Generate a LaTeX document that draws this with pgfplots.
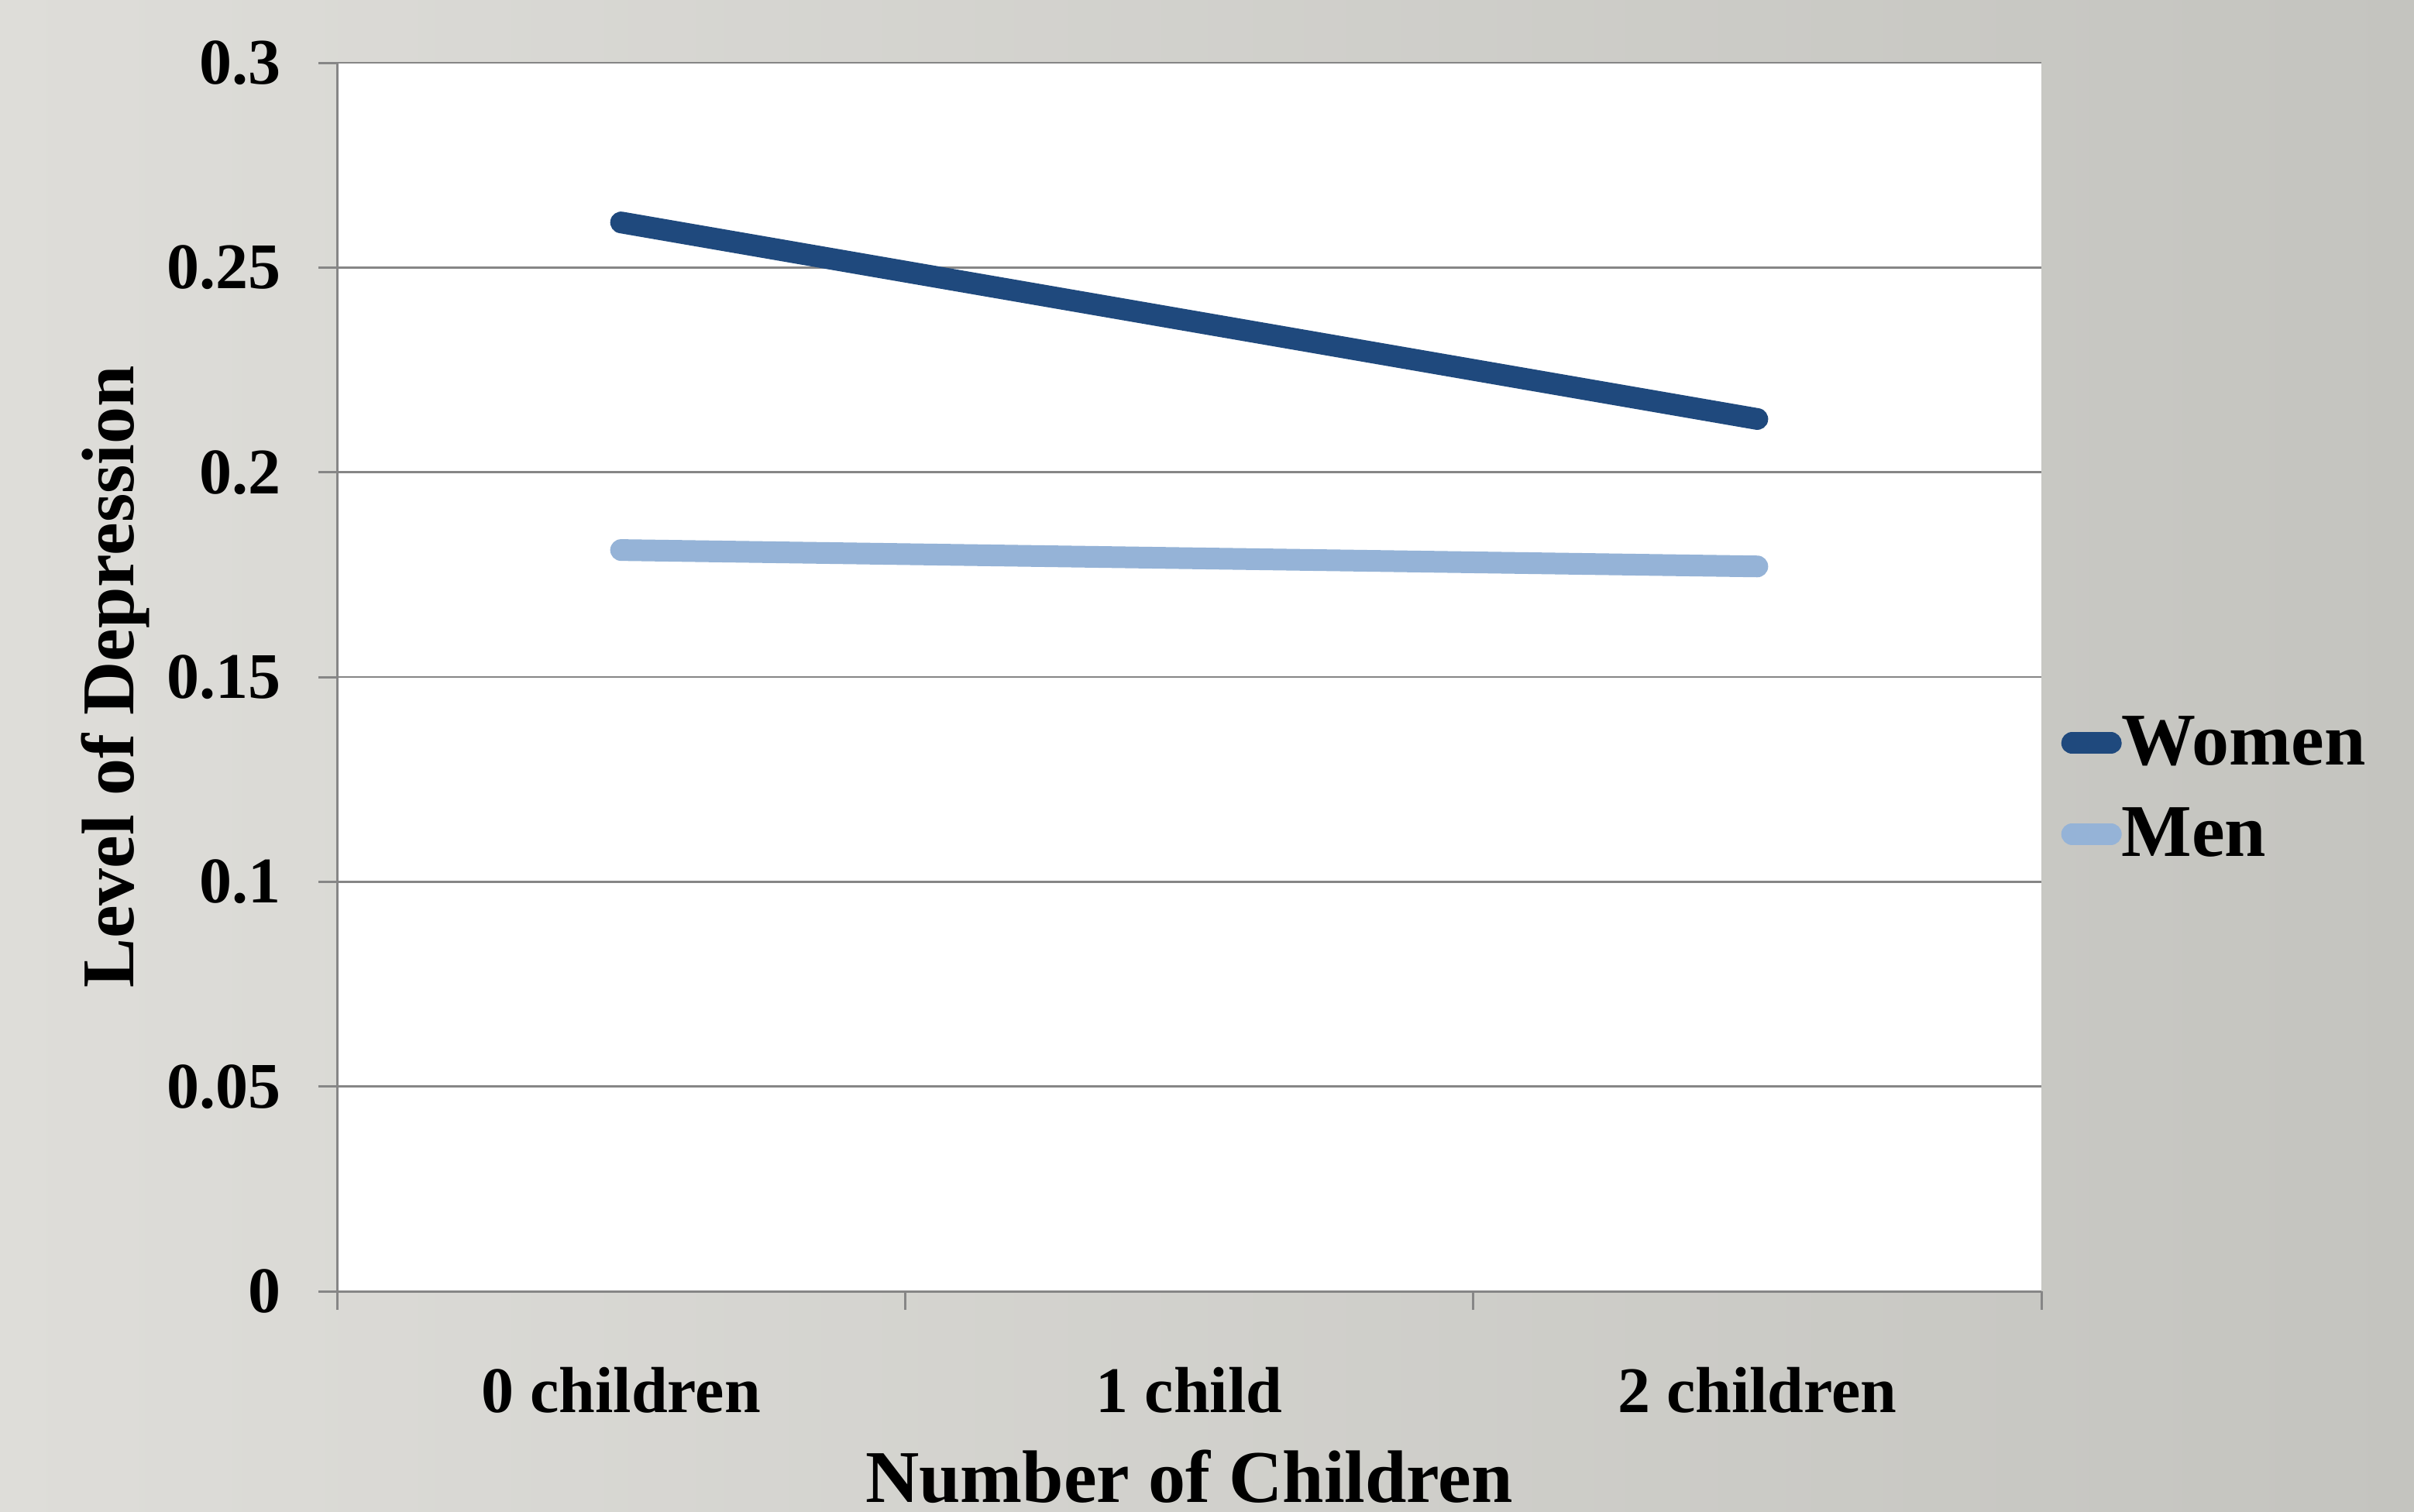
\documentclass[border=0pt]{standalone}
\usepackage{fontspec}
\setmainfont{Liberation Serif}
\usepackage{pgfplots}
\pgfplotsset{compat=1.18}

\definecolor{women}{RGB}{31,73,125}
\definecolor{men}{RGB}{149,179,215}
\definecolor{axgray}{RGB}{134,134,134}
\definecolor{bgleft}{RGB}{222,221,217}
\definecolor{bgright}{RGB}{196,196,191}

\begin{document}
\begin{tikzpicture}
\useasboundingbox (0,0) rectangle (779pt,487.75pt);
\clip (0,0) rectangle (779pt,487.75pt);
\shade[left color=bgleft, right color=bgright] (0,0) rectangle (779pt,487.75pt);
\begin{axis}[
    at={(108.75pt,71pt)}, anchor=south west,
    width=550pt, height=396.5pt, scale only axis,
    axis background/.style={fill=white},
    xmin=-0.5, xmax=2.5, ymin=0, ymax=0.3,
    axis x line*=bottom, axis y line*=left,
    axis line style={draw=axgray, line width=0.75pt, -},
    % category separators as ticks, names as extra ticks at the centres
    xtick={-0.5,0.5,1.5,2.5},
    xticklabels={},
    extra x ticks={0,1,2},
    extra x tick labels={0 children,1 child,2 children},
    extra x tick style={major tick length=0pt, tick style={draw=none}},
    ytick={0,0.05,0.1,0.15,0.2,0.25,0.3},
    yticklabels={0,0.05,0.1,0.15,0.2,0.25,0.3},
    tick align=outside,
    major tick length=6pt,
    tick style={draw=axgray, line width=0.75pt},
    ymajorgrids=true,
    grid style={draw=axgray, line width=0.6pt},
    ticklabel style={font=\fontsize{21}{25}\selectfont\bfseries},
    xticklabel style={yshift=-21pt},
    yticklabel style={xshift=-8.5pt},
    xlabel={Number of Children},
    ylabel={Level of Depression},
    label style={font=\fontsize{24}{28}\selectfont\bfseries},
    xlabel style={at={(axis description cs:0.5,-0.172)}, anchor=base},
    ylabel style={at={(axis description cs:-0.1191,0.5)}, anchor=base},
    legend style={at={(axis description cs:1.0113,0.4092)}, anchor=west,
        draw=none, fill=none, inner sep=0pt,
        font=\fontsize{24}{28}\selectfont\bfseries,
        nodes={inner sep=0pt}, row sep=12.1pt,
        /tikz/every even column/.append style={column sep=2.25pt}},
    legend cell align=left,
    legend image code/.code={\draw[#1, line width=7pt, line cap=round] (0pt,0pt) -- (12.5pt,0pt);},
]
\addplot[women, line width=7pt, line cap=round] coordinates {(0,0.261) (1,0.237) (2,0.213)};
\addlegendentry{Women}
\addplot[men, line width=7pt, line cap=round] coordinates {(0,0.181) (1,0.179) (2,0.177)};
\addlegendentry{Men}
\end{axis}
\end{tikzpicture}
\end{document}
